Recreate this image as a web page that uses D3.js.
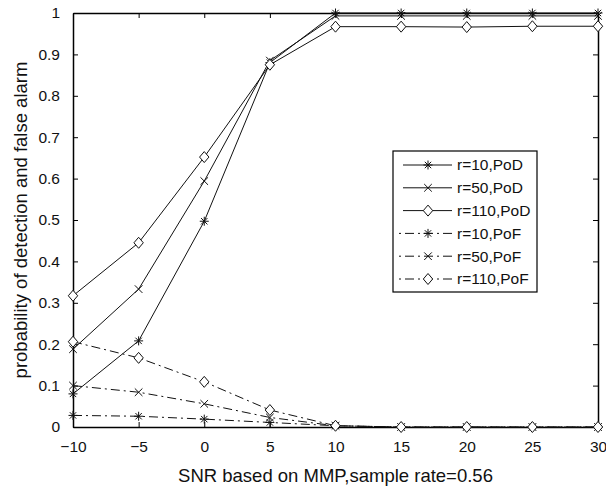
<!DOCTYPE html>
<html>
<head>
<meta charset="utf-8">
<script src="https://cdn.jsdelivr.net/npm/d3@7"></script>
<style>
  body { margin: 0; background: #fff; }
  svg { font-family: "Liberation Sans", Arial, sans-serif; }
</style>
</head>
<body>
<svg id="chart" width="606" height="488"></svg>
<script>
// SNR values (x axis)
const snr = [-10, -5, 0, 5, 10, 15, 20, 25, 30];

// probability of detection
const pod10 = [0.08, 0.208, 0.497, 0.88, 1.0, 1.0, 1.0, 1.0, 1.0];
const pod50 = [0.188, 0.333, 0.594, 0.885, 0.993, 0.993, 0.993, 0.993, 0.993];
const pod110 = [0.317, 0.445, 0.652, 0.875, 0.967, 0.967, 0.966, 0.968, 0.968];

// probability of false alarm
const pof10 = [0.028, 0.026, 0.019, 0.011, 0.003, 0, 0, 0, 0];
const pof50 = [0.1, 0.084, 0.056, 0.023, 0.003, 0, 0, 0, 0];
const pof110 = [0.206, 0.167, 0.109, 0.041, 0.003, 0, 0, 0, 0];

const xTicks = [-10, -5, 0, 5, 10, 15, 20, 25, 30];
const yTicks = [0, 0.1, 0.2, 0.3, 0.4, 0.5, 0.6, 0.7, 0.8, 0.9, 1];

const seriesNames = ['r=10,PoD', 'r=50,PoD', 'r=110,PoD', 'r=10,PoF', 'r=50,PoF', 'r=110,PoF'];
const seriesData = [pod10, pod50, pod110, pof10, pof50, pof110];
const seriesMarker = ['star', 'x', 'diamond', 'star', 'x', 'diamond'];
const seriesDash = [null, null, null, '9,4,2,4', '9,4,2,4', '9,4,2,4'];

const svg = d3.select('#chart');
const margin = { top: 13, right: 8, bottom: 61, left: 73 };
const width = 606 - margin.left - margin.right;
const height = 488 - margin.top - margin.bottom;

const x = d3.scaleLinear().domain([-10, 30]).range([0, width]);
const y = d3.scaleLinear().domain([0, 1]).range([height, 0]);

const g = svg.append('g')
  .attr('transform', `translate(${margin.left},${margin.top})`);

// axes, matlab style: ticks inward, box all round
const tickLen = 5;
const axisB = g.append('g')
  .attr('transform', `translate(0,${height})`)
  .call(d3.axisBottom(x).tickValues(xTicks).tickSizeInner(-tickLen).tickSizeOuter(0).tickPadding(14)
    .tickFormat(d => d < 0 ? '\u2212' + Math.abs(d) : d));
const axisL = g.append('g')
  .call(d3.axisLeft(y).tickValues(yTicks).tickSizeInner(-tickLen).tickSizeOuter(0).tickPadding(13)
    .tickFormat(d => d === 0 || d === 1 ? d : d3.format('.1f')(d)));
const axisT = g.append('g')
  .call(d3.axisTop(x).tickValues(xTicks).tickSizeInner(-tickLen).tickSizeOuter(0).tickFormat(''));
const axisR = g.append('g')
  .attr('transform', `translate(${width},0)`)
  .call(d3.axisRight(y).tickValues(yTicks).tickSizeInner(-tickLen).tickSizeOuter(0).tickFormat(''));

[axisB, axisL, axisT, axisR].forEach(a => {
  a.select('.domain').attr('stroke', '#000').attr('stroke-width', 1.5);
  a.selectAll('.tick line').attr('stroke', '#000').attr('stroke-width', 1);
  a.selectAll('text').attr('font-size', 15.5).attr('fill', '#111')
    .attr('font-family', '"Liberation Sans", Arial, sans-serif');
});

// marker drawing
function drawMarker(sel, type, cx, cy) {
  if (type === 'star') {
    const s = 4.5, d = 3.2;
    sel.append('path')
      .attr('d', `M${cx - s},${cy}L${cx + s},${cy}M${cx},${cy - s}L${cx},${cy + s}` +
        `M${cx - d},${cy - d}L${cx + d},${cy + d}M${cx - d},${cy + d}L${cx + d},${cy - d}`)
      .attr('stroke', '#111').attr('stroke-width', 1).attr('fill', 'none');
  } else if (type === 'x') {
    const d = 3.8;
    sel.append('path')
      .attr('d', `M${cx - d},${cy - d}L${cx + d},${cy + d}M${cx - d},${cy + d}L${cx + d},${cy - d}`)
      .attr('stroke', '#111').attr('stroke-width', 1).attr('fill', 'none');
  } else {
    const r = 5.5;
    sel.append('path')
      .attr('d', `M${cx},${cy - r}L${cx + r * 0.85},${cy}L${cx},${cy + r}L${cx - r * 0.85},${cy}Z`)
      .attr('stroke', '#111').attr('stroke-width', 1).attr('fill', '#fff');
  }
}

const line = d3.line().x((d, i) => x(snr[i])).y(d => y(d));

seriesData.forEach((vals, k) => {
  g.append('path')
    .datum(vals)
    .attr('fill', 'none')
    .attr('stroke', '#111')
    .attr('stroke-width', 1)
    .attr('stroke-dasharray', seriesDash[k])
    .attr('d', line);
});
seriesData.forEach((vals, k) => {
  const mg = g.append('g');
  vals.forEach((v, i) => drawMarker(mg, seriesMarker[k], x(snr[i]), y(v)));
});

// legend
const leg = svg.append('g').attr('transform', 'translate(393,151)');
leg.append('rect')
  .attr('width', 144).attr('height', 141)
  .attr('fill', '#fff').attr('stroke', '#000').attr('stroke-width', 1.2);
seriesNames.forEach((name, k) => {
  const ly = 14 + k * 22.8;
  leg.append('line')
    .attr('x1', seriesDash[k] ? 6 : 10).attr('x2', 59).attr('y1', ly).attr('y2', ly)
    .attr('stroke', '#111').attr('stroke-width', 1)
    .attr('stroke-dasharray', seriesDash[k] ? '2,4,9,4' : null);
  drawMarker(leg, seriesMarker[k], 35, ly);
  leg.append('text')
    .attr('x', 64).attr('y', ly).attr('dy', '0.35em')
    .attr('font-size', 15.5).attr('fill', '#111')
    .text(name);
});

// axis titles
svg.append('text')
  .attr('x', margin.left + width / 2).attr('y', 482)
  .attr('text-anchor', 'middle')
  .attr('font-size', 18.5).attr('fill', '#111')
  .text('SNR based on MMP,sample rate=0.56');
svg.append('text')
  .attr('transform', `translate(27,${margin.top + height / 2}) rotate(-90)`)
  .attr('text-anchor', 'middle')
  .attr('font-size', 18.5).attr('fill', '#111')
  .text('probability of detection and false alarm');
</script>
</body>
</html>
